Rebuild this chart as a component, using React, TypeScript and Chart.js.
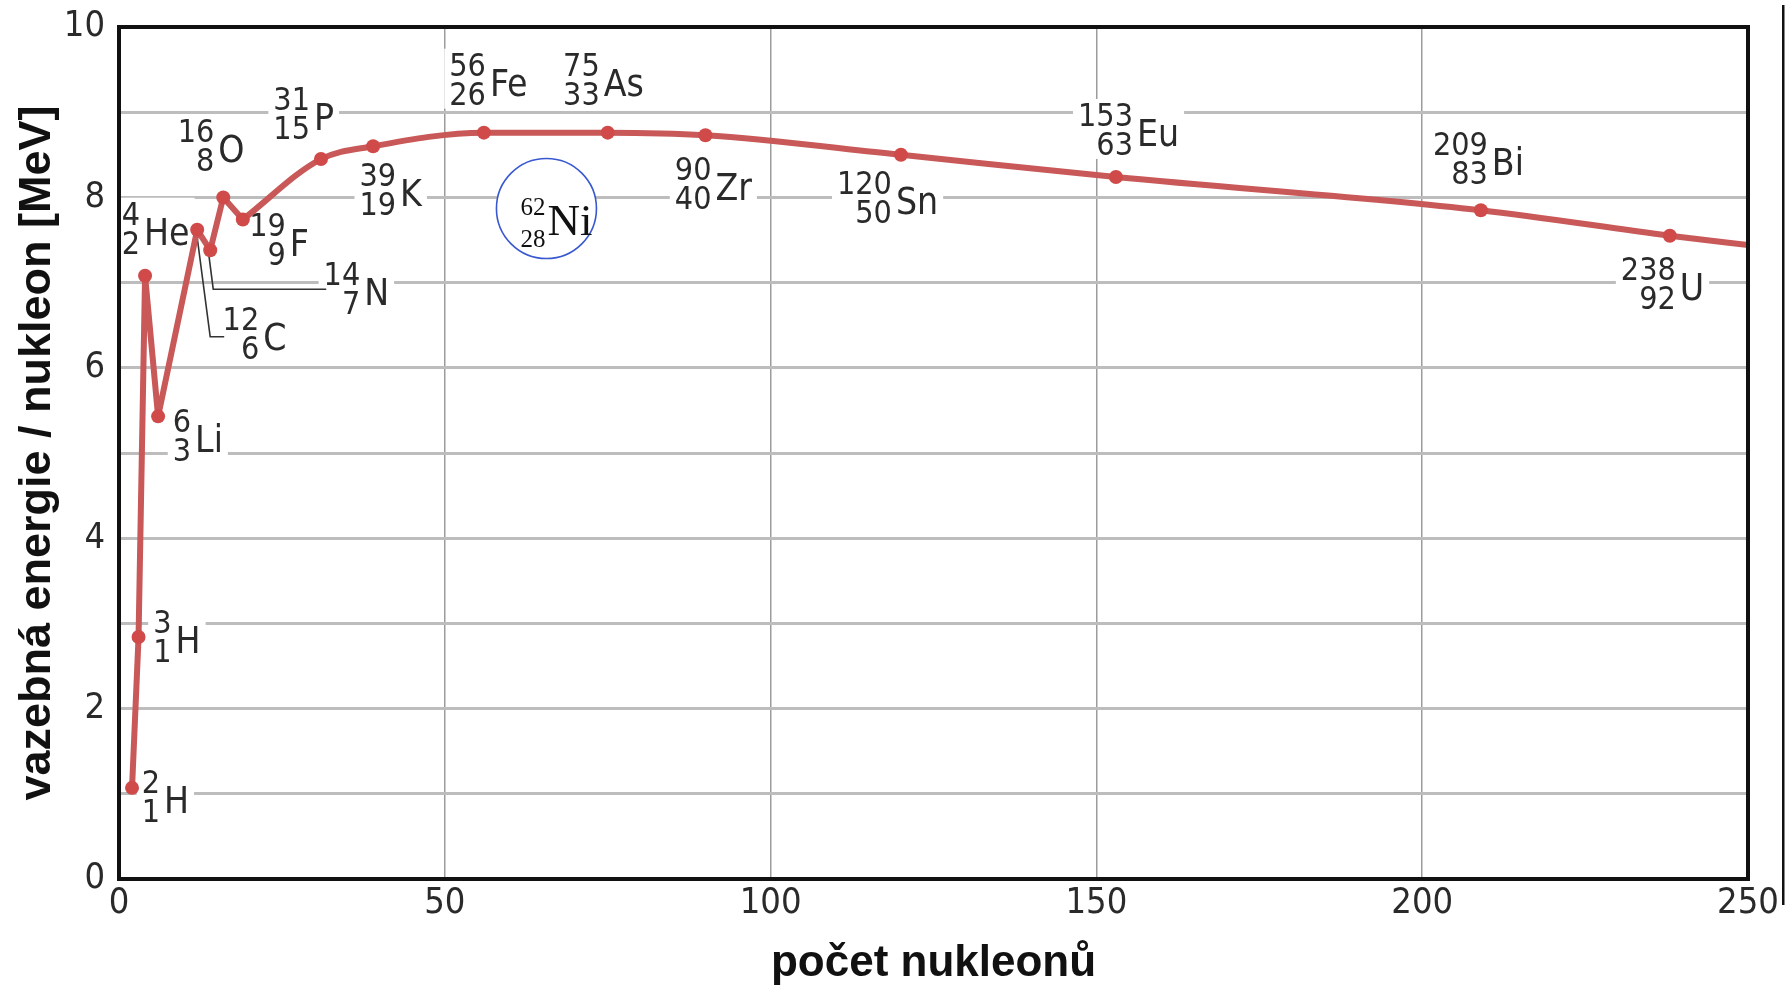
import React, { useEffect, useRef } from 'react';
import { Chart, registerables } from 'chart.js';

Chart.register(...registerables);

// ---- data ----
const MASS_NUMBERS = [2, 3, 4, 6, 12, 14, 16, 19, 31, 39, 56, 75, 90, 120, 153, 209, 238];
const PROTON_NUMBERS = [1, 1, 2, 3, 6, 7, 8, 9, 15, 19, 26, 33, 40, 50, 63, 83, 92];
const SYMBOLS = ['H', 'H', 'He', 'Li', 'C', 'N', 'O', 'F', 'P', 'K', 'Fe', 'As', 'Zr', 'Sn', 'Eu', 'Bi', 'U'];
const BINDING_PER_NUCLEON = [1.07, 2.84, 7.08, 5.43, 7.62, 7.38, 8.0, 7.74, 8.45, 8.6, 8.76, 8.76, 8.73, 8.5, 8.24, 7.85, 7.55];
const CURVE_END_A = 250;
const CURVE_END_VALUE = 7.44;
const SMOOTH_FROM_INDEX = 7; // 19F: straight zig-zag before, smooth curve after

const X_TICKS = [0, 50, 100, 150, 200, 250];
const Y_LABELLED_TICKS = [0, 2, 4, 6, 8, 10];

const NI_MASS = '62';
const NI_Z = '28';
const NI_SYMBOL = 'Ni';
const NI_POSITION = { a: 65.6, e: 7.87 };

const X_TITLE = 'počet nukleonů';
const Y_TITLE = 'vazebná energie / nukleon [MeV]';

// ---- styles ----
const NARROW = "'Liberation Sans Narrow', 'DejaVu Sans Condensed', 'Liberation Sans', sans-serif";
const LINE_COLOR = '#c95858';
const POINT_COLOR = '#d04a4a';
const TEXT_COLOR = '#2a2a2a';

// label offsets [dx, dy] in px: right edge of number stack / stack centre, relative to point
const LABEL_OFFSETS: [number, number][] = [
  [28, 7], [33, -2], [-5, -49], [33, 18], [62, 102], [150, 37], [-9, -53], [43, 18],
  [-11, -47], [23, 42], [2, -55], [-8, -55], [6, 47], [-9, 41], [17, -49], [7, -53], [6, 46],
];
// leader lines (px offsets from point) by index
const LEADERS: Record<number, [number, number][]> = {
  4: [[-1, 0], [13, 107], [27, 107]],
  5: [[-2, 0], [3, 39], [116, 39]],
};

function drawNuclide(ctx: CanvasRenderingContext2D, rx: number, cy: number, mass: string, z: string, sym: string) {
  ctx.font = `32px ${NARROW}`;
  const wNum = Math.max(ctx.measureText(mass).width, ctx.measureText(z).width);
  ctx.font = `37px ${NARROW}`;
  const wSym = ctx.measureText(sym).width;
  ctx.fillStyle = '#ffffff';
  ctx.fillRect(rx - wNum - 5, cy - 29, wNum + wSym + 14, 60);
  ctx.fillStyle = TEXT_COLOR;
  ctx.textBaseline = 'alphabetic';
  ctx.font = `32px ${NARROW}`;
  ctx.textAlign = 'right';
  ctx.fillText(mass, rx, cy - 2);
  ctx.fillText(z, rx, cy + 27);
  ctx.font = `37px ${NARROW}`;
  ctx.textAlign = 'left';
  ctx.fillText(sym, rx + 4, cy + 18);
}

const annotationPlugin = {
  id: 'nuclideAnnotations',
  beforeDatasetsDraw(chart: any) {
    const ctx: CanvasRenderingContext2D = chart.ctx;
    const xs = chart.scales.x;
    const ys = chart.scales.y;
    ctx.save();
    MASS_NUMBERS.forEach((a, i) => {
      const px = xs.getPixelForValue(a);
      const py = ys.getPixelForValue(BINDING_PER_NUCLEON[i]);
      const [dx, dy] = LABEL_OFFSETS[i];
      drawNuclide(ctx, px + dx, py + dy, String(a), String(PROTON_NUMBERS[i]), SYMBOLS[i]);
    });
    // leader lines
    ctx.strokeStyle = '#333333';
    ctx.lineWidth = 1.6;
    Object.keys(LEADERS).forEach((k) => {
      const i = Number(k);
      const px = xs.getPixelForValue(MASS_NUMBERS[i]);
      const py = ys.getPixelForValue(BINDING_PER_NUCLEON[i]);
      ctx.beginPath();
      LEADERS[i].forEach(([ox, oy], j) => {
        if (j === 0) ctx.moveTo(px + ox, py + oy);
        else ctx.lineTo(px + ox, py + oy);
      });
      ctx.stroke();
    });
    // Ni circle
    const cx = xs.getPixelForValue(NI_POSITION.a);
    const cy = ys.getPixelForValue(NI_POSITION.e);
    ctx.beginPath();
    ctx.arc(cx, cy, 50, 0, Math.PI * 2);
    ctx.fillStyle = '#ffffff';
    ctx.fill();
    ctx.strokeStyle = '#3858d0';
    ctx.lineWidth = 1.6;
    ctx.stroke();
    ctx.fillStyle = '#111111';
    ctx.font = "25px 'Liberation Serif', 'Times New Roman', serif";
    ctx.textAlign = 'right';
    ctx.textBaseline = 'alphabetic';
    ctx.fillText(NI_MASS, cx - 1, cy + 7);
    ctx.fillText(NI_Z, cx - 1, cy + 39);
    ctx.font = "45px 'Liberation Serif', 'Times New Roman', serif";
    ctx.textAlign = 'left';
    ctx.fillText(NI_SYMBOL, cx + 1, cy + 27);
    ctx.restore();
  },
  afterDatasetsDraw(chart: any) {
    const ctx: CanvasRenderingContext2D = chart.ctx;
    const { left, right, top, bottom } = chart.chartArea;
    ctx.save();
    ctx.strokeStyle = '#111111';
    ctx.lineWidth = 4;
    ctx.strokeRect(left, top, right - left, bottom - top);
    ctx.fillStyle = '#111111';
    ctx.fillRect(right + 34, 5, 2.5, 900);
    ctx.restore();
  },
};

export default function App() {
  const canvasRef = useRef<HTMLCanvasElement | null>(null);

  useEffect(() => {
    if (!canvasRef.current) return;
    const pts = MASS_NUMBERS.map((a, i) => ({ x: a, y: BINDING_PER_NUCLEON[i] }));
    const light = pts.slice(0, SMOOTH_FROM_INDEX + 1);
    const heavy = [...pts.slice(SMOOTH_FROM_INDEX), { x: CURVE_END_A, y: CURVE_END_VALUE }];
    const heavyRadius = heavy.map((_, i) => (i === 0 || i === heavy.length - 1 ? 0 : 7));

    const chart = new Chart(canvasRef.current, {
      type: 'line',
      data: {
        datasets: [
          {
            data: light,
            borderColor: LINE_COLOR,
            borderWidth: 6,
            tension: 0,
            pointRadius: 7,
            pointBackgroundColor: POINT_COLOR,
            pointBorderWidth: 0,
            borderJoinStyle: 'round',
          },
          {
            data: heavy,
            borderColor: LINE_COLOR,
            borderWidth: 6,
            cubicInterpolationMode: 'monotone',
            pointRadius: heavyRadius,
            pointBackgroundColor: POINT_COLOR,
            pointBorderWidth: 0,
          },
        ],
      },
      options: {
        animation: false,
        responsive: true,
        maintainAspectRatio: false,
        layout: { padding: { top: 27, right: 44, left: 0, bottom: 0 } },
        plugins: { legend: { display: false }, tooltip: { enabled: false } },
        scales: {
          x: {
            type: 'linear',
            min: X_TICKS[0],
            max: X_TICKS[X_TICKS.length - 1],
            afterFit: (s: any) => { s.height = 110; s.paddingLeft = 0; s.paddingRight = 0; },
            afterBuildTicks: (s: any) => { s.ticks = X_TICKS.map((v) => ({ value: v })); },
            ticks: {
              color: TEXT_COLOR,
              font: { family: NARROW, size: 36 },
              padding: 3,
              maxRotation: 0,
              autoSkip: false,
            },
            grid: { color: '#9c9c9c', lineWidth: 1.5, drawTicks: false },
            border: { display: false },
            title: {
              display: true,
              text: X_TITLE,
              color: '#111111',
              font: { family: "'Liberation Sans', Arial, sans-serif", size: 44, weight: 'bold', lineHeight: 1 },
              padding: { top: 0, bottom: 3 },
            },
          },
          y: {
            type: 'linear',
            min: 0,
            max: 10,
            afterFit: (s: any) => { s.width = 119; s.paddingTop = 0; s.paddingBottom = 0; },
            ticks: {
              stepSize: 1,
              color: TEXT_COLOR,
              font: { family: NARROW, size: 36 },
              padding: 14,
              callback: (v: any) => (Y_LABELLED_TICKS.includes(Number(v)) ? String(v) : ''),
            },
            grid: { color: '#bdbdbd', lineWidth: 3, drawTicks: false },
            border: { display: false },
            title: {
              display: true,
              text: Y_TITLE,
              color: '#111111',
              font: { family: "'Liberation Sans', Arial, sans-serif", size: 45, weight: 'bold', lineHeight: 1 },
              padding: { top: 15, bottom: 0 },
            },
          },
        },
      },
      plugins: [annotationPlugin],
    });
    return () => chart.destroy();
  }, []);

  return (
    <div style={{ position: 'absolute', left: 0, top: 0, width: 1792, height: 989, background: '#ffffff' }}>
      <canvas ref={canvasRef} />
    </div>
  );
}
